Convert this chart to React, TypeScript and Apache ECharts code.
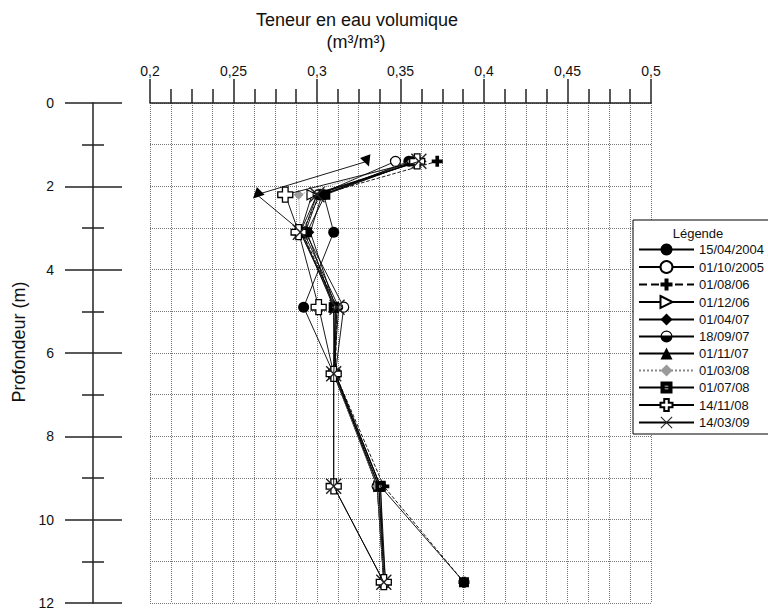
import React, { useEffect, useRef } from "react";
import * as echarts from "echarts";

const depths = [1.4, 2.2, 3.1, 4.9, 6.5, 9.2, 11.5];
const seriesNames = [
  "15/04/2004", "01/10/2005", "01/08/06", "01/12/06", "01/04/07", "18/09/07",
  "01/11/07", "01/03/08", "01/07/08", "14/11/08", "14/03/09",
];
const v15_04_2004 = [0.355, 0.304, 0.310, 0.292, 0.310, 0.336, 0.340];
const v01_10_2005 = [0.347, 0.301, 0.293, 0.316, 0.311, 0.338, 0.340];
const v01_08_06 = [0.372, 0.302, 0.291, 0.312, 0.311, 0.340, 0.388];
const v01_12_06 = [0.362, 0.297, 0.290, 0.311, 0.310, 0.337, 0.341];
const v01_04_07 = [0.360, 0.303, 0.296, 0.311, 0.311, 0.336, 0.340];
const v18_09_07 = [0.358, 0.300, 0.292, 0.313, 0.310, 0.338, 0.341];
const v01_11_07 = [0.330, 0.264, 0.291, 0.310, 0.310, 0.337, 0.340];
const v01_03_08 = [0.357, 0.289, 0.290, 0.312, 0.310, 0.336, 0.340];
const v01_07_08 = [0.359, 0.305, 0.294, 0.310, 0.311, 0.338, 0.388];
const v14_11_08 = [0.360, 0.281, 0.289, 0.301, 0.310, 0.310, 0.340];
const v14_03_09 = [0.361, 0.300, 0.290, 0.312, 0.310, 0.310, 0.340];
const allValues = [
  v15_04_2004, v01_10_2005, v01_08_06, v01_12_06, v01_04_07, v18_09_07,
  v01_11_07, v01_03_08, v01_07_08, v14_11_08, v14_03_09,
];
const xTitle = "Teneur en eau volumique";
const xUnit = "(m³/m³)";
const yTitle = "Profondeur (m)";
const legendTitle = "Légende";

const FONT = "'Liberation Sans', Arial, sans-serif";

const PLUS = "path://M4,0H8V4H12V8H8V12H4V8H0V4H4Z";
const OPEN_CROSS = "path://M5,0H11V5H16V11H11V16H5V11H0V5H5Z";
const XMARK = "path://M0,1L1,0L8,7L15,0L16,1L9,8L16,15L15,16L8,9L1,16L0,15L7,8Z";
const TRI_RIGHT = "path://M0,0L10,5L0,10Z";
const SQUARE_HOLE = "path://M0,0H10V10H0Z M3.5,3.5V6.5H6.5V3.5Z";
const HALF_CIRCLE =
  "path://M0,5A5,5 0 1 1 10,5A5,5 0 1 1 0,5Z M1,5A4,4 0 1 0 9,5A4,4 0 1 0 1,5Z M1,5A4,4 0 0 0 9,5Z";

type Style = {
  symbol: string;
  size: number;
  fill: string;
  border?: string;
  borderWidth?: number;
  lineColor?: string;
  lineType?: string;
  rotate?: any;
};

const styles: Style[] = [
  { symbol: "circle", size: 11, fill: "#000" },
  { symbol: "circle", size: 10, fill: "#fff", border: "#000", borderWidth: 1.2 },
  { symbol: PLUS, size: 11, fill: "#000", lineType: "dashed" },
  { symbol: TRI_RIGHT, size: 10, fill: "#fff", border: "#000", borderWidth: 1.2 },
  { symbol: "diamond", size: 8, fill: "#000" },
  { symbol: HALF_CIRCLE, size: 9, fill: "#000" },
  {
    symbol: "triangle",
    size: 11,
    fill: "#000",
    rotate: (_v: any, p: any) => (p && p.dataIndex === 0 ? 200 : p && p.dataIndex === 1 ? 135 : 0),
  },
  { symbol: "diamond", size: 10, fill: "#9a9a9a", lineColor: "#888", lineType: "dotted" },
  { symbol: SQUARE_HOLE, size: 10, fill: "#000" },
  { symbol: OPEN_CROSS, size: 15, fill: "#fff", border: "#000", borderWidth: 1.3 },
  { symbol: XMARK, size: 16, fill: "#222" },
];

export default function App() {
  const ref = useRef<HTMLDivElement>(null);
  useEffect(() => {
    if (!ref.current) return;
    const chart = echarts.init(ref.current, null, { renderer: "svg" });
    const gridLine = { show: true, lineStyle: { color: "#777", type: "dotted", width: 1 } };
    const fmt = (v: number) => String(Number(v.toFixed(3))).replace(".", ",");

    const series = seriesNames.map((name, i) => {
      const st = styles[i];
      return {
        name,
        type: "line",
        xAxisIndex: 0,
        yAxisIndex: 0,
        data: allValues[i].map((x, k) => [x, depths[k]]),
        symbol: st.symbol,
        symbolSize: st.size,
        symbolRotate: st.rotate,
        showSymbol: true,
        itemStyle: {
          color: st.fill,
          borderColor: st.border || st.fill,
          borderWidth: st.borderWidth || 0,
          opacity: 1,
        },
        lineStyle: {
          color: st.lineColor || "#000",
          width: 0.9,
          type: st.lineType || "solid",
        },
        emphasis: { disabled: true },
        z: 3 + i,
      };
    });

    chart.setOption({
      animation: false,
      textStyle: { fontFamily: FONT },
      grid: { left: 150, right: 117, top: 103, bottom: 8, containLabel: false },
      xAxis: {
        type: "value",
        position: "top",
        min: 0.2,
        max: 0.5,
        interval: 0.05,
        axisLine: { show: true, onZero: false, lineStyle: { color: "#222", width: 1.5 } },
        axisTick: { show: true, length: 24, lineStyle: { color: "#222", width: 1.5 } },
        minorTick: { show: true, splitNumber: 4, length: 14, lineStyle: { color: "#222", width: 1.5 } },
        axisLabel: { margin: 25, fontSize: 14, color: "#111", fontFamily: FONT, formatter: fmt },
        splitLine: gridLine,
        minorSplitLine: gridLine,
      },
      yAxis: [
        {
          type: "value",
          inverse: true,
          position: "left",
          offset: 57,
          min: 0,
          max: 12,
          interval: 2,
          name: yTitle,
          nameLocation: "middle",
          nameGap: 58,
          nameRotate: 90,
          nameTextStyle: { fontSize: 18, color: "#111", fontFamily: FONT, padding: [0, 0, 0, 22] },
          axisLine: { show: true, onZero: false, lineStyle: { color: "#222", width: 1.5 } },
          axisTick: { show: true, length: 28, lineStyle: { color: "#222", width: 1.5 } },
          minorTick: { show: true, splitNumber: 2, length: 11, lineStyle: { color: "#222", width: 1.5 } },
          axisLabel: { margin: 39, fontSize: 14, color: "#111", fontFamily: FONT },
          splitLine: gridLine,
          minorSplitLine: gridLine,
        },
        {
          type: "value",
          inverse: true,
          position: "left",
          offset: 57,
          min: 0,
          max: 12,
          interval: 2,
          axisLine: { show: false, onZero: false },
          axisTick: { show: true, inside: true, length: 29, lineStyle: { color: "#222", width: 1.5 } },
          minorTick: { show: true, splitNumber: 2, length: 11, lineStyle: { color: "#222", width: 1.5 } },
          axisLabel: { show: false },
          splitLine: { show: false },
        },
      ],
      legend: {
        show: true,
        orient: "vertical",
        left: 633,
        top: 220,
        padding: [23, 6, 5, 5],
        itemWidth: 55,
        itemHeight: 15,
        itemGap: 4,
        backgroundColor: "#fff",
        borderColor: "#000",
        borderWidth: 1,
        borderRadius: 0,
        selectedMode: false,
        textStyle: { fontSize: 13, color: "#111", fontFamily: FONT },
        data: seriesNames.map((n, i) => (i === 6 ? { name: n, symbolRotate: 0 } : { name: n })),
      },
      graphic: [
        {
          type: "text",
          x: 357,
          y: 20,
          style: {
            text: xTitle,
            font: `18px ${FONT}`,
            fill: "#111",
            align: "center",
            verticalAlign: "middle",
            textAlign: "center",
            textVerticalAlign: "middle",
          },
        },
        {
          type: "text",
          x: 356,
          y: 42,
          style: {
            text: xUnit,
            font: `18px ${FONT}`,
            fill: "#111",
            align: "center",
            verticalAlign: "middle",
            textAlign: "center",
            textVerticalAlign: "middle",
          },
        },
        {
          type: "text",
          x: 698,
          y: 233,
          z: 100,
          style: {
            text: legendTitle,
            font: `13px ${FONT}`,
            fill: "#111",
            align: "center",
            verticalAlign: "middle",
            textAlign: "center",
            textVerticalAlign: "middle",
          },
        },
      ],
      series,
    });
    return () => chart.dispose();
  }, []);
  return (
    <div
      ref={ref}
      style={{ position: "fixed", left: 0, top: 0, width: 768, height: 611, background: "#fff" }}
    />
  );
}
